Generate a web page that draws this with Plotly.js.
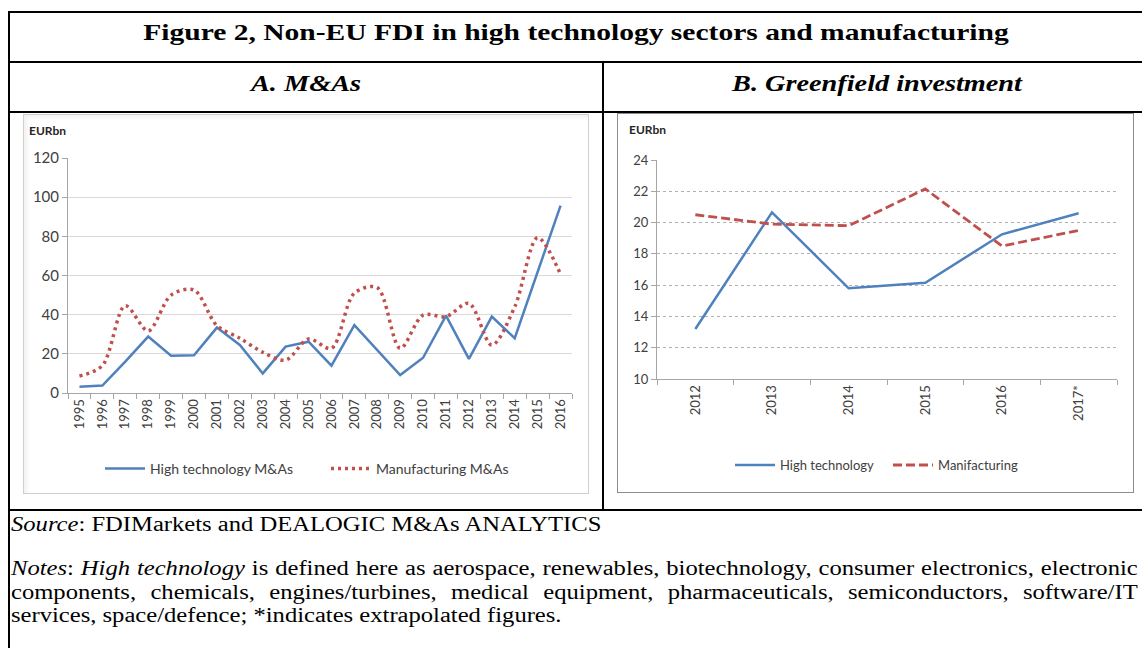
<!DOCTYPE html>
<html><head><meta charset="utf-8">
<script src="https://cdn.plot.ly/plotly-3.0.1.min.js"></script>
<style>
html,body{margin:0;padding:0;background:#fff;}
body{width:1142px;height:648px;overflow:hidden;position:relative;font-family:"Liberation Serif","Times New Roman",serif;color:#000;}
.ln{position:absolute;background:#000;}
.cell{position:absolute;text-align:center;white-space:nowrap;transform:scaleX(1.23);transform-origin:center;}
.txt{position:absolute;white-space:nowrap;transform:scaleX(1.23);transform-origin:left center;font-size:20px;line-height:23.5px;}
.jl{text-align:justify;text-align-last:justify;white-space:normal;width:916px;}
.box{position:absolute;box-sizing:border-box;background:#fff;}
.plot{position:absolute;}
</style>
</head><body>
<div class="ln" style="left:8px;top:11px;width:1150px;height:2px"></div>
<div class="ln" style="left:8px;top:61px;width:1150px;height:2px"></div>
<div class="ln" style="left:8px;top:111px;width:1150px;height:2px"></div>
<div class="ln" style="left:8px;top:509px;width:1150px;height:2px"></div>
<div class="ln" style="left:8px;top:11px;width:2px;height:650px"></div>
<div class="ln" style="left:602px;top:62px;width:2px;height:448px"></div>

<div class="cell" style="left:10px;width:1132px;top:19px;font-size:24px;font-weight:bold;">Figure 2, Non-EU FDI in high technology sectors and manufacturing</div>
<div class="cell" style="left:10px;width:592px;top:71px;font-size:23px;font-style:italic;font-weight:bold;">A. M&amp;As</div>
<div class="cell" style="left:604px;width:546px;top:71px;font-size:23px;font-style:italic;font-weight:bold;">B. Greenfield investment</div>

<div class="box" style="left:23px;top:114px;width:566px;height:380px;border:1px solid #cfcfcf;box-shadow:inset 3px 3px 4px rgba(0,0,0,0.06);"></div>
<div class="box" style="left:617px;top:113px;width:517px;height:380px;border:1px solid #8c8c8c;"></div>
<div id="chartA" class="plot" style="left:23px;top:114px;width:566px;height:380px;"></div>
<div id="chartB" class="plot" style="left:617px;top:113px;width:517px;height:380px;"></div>

<div class="txt" style="left:11px;top:513px;"><i>Source</i>: FDIMarkets and DEALOGIC M&amp;As ANALYTICS</div>
<div class="txt jl" style="left:11px;top:557px;"><i>Notes</i>: <i>High technology</i> is defined here as aerospace, renewables, biotechnology, consumer electronics, electronic</div>
<div class="txt jl" style="left:11px;top:580.5px;">components, chemicals, engines/turbines, medical equipment, pharmaceuticals, semiconductors, software/IT</div>
<div class="txt" style="left:11px;top:604px;">services, space/defence; *indicates extrapolated figures.</div>

<script>
// ---- Panel A: M&As (EURbn) ----
const yearsMA = ['1995','1996','1997','1998','1999','2000','2001','2002','2003','2004','2005','2006','2007','2008','2009','2010','2011','2012','2013','2014','2015','2016'];
const highTechMA = [3.2, 3.8, 16, 28.8, 19, 19.3, 33.4, 24.5, 10, 23.7, 26.2, 14, 34.7, 22, 9.2, 18, 39.5, 17.4, 39, 28, 62, 95.7];
const manufMA = [8.7, 14, 44.6, 31.7, 50, 52.6, 34.4, 28, 20.8, 16.8, 27.6, 22.8, 51, 53.8, 22.8, 39.8, 39, 45.8, 24.5, 44, 79.3, 60.6];
const seriesNamesMA = ['High technology M&As', 'Manufacturing M&As'];

// ---- Panel B: Greenfield investment (EURbn) ----
const yearsGF = ['2012','2013','2014','2015','2016','2017*'];
const highTechGF = [13.2, 20.65, 15.8, 16.15, 19.25, 20.6];
const manufGF = [20.5, 19.9, 19.8, 22.15, 18.5, 19.5];
const seriesNamesGF = ['High technology', 'Manifacturing'];

const BLUE = '#4f81bd', RED = '#c0504d';
const FONT = 'Lato, "Open Sans", sans-serif';

const tracesA = [
  {x: yearsMA, y: highTechMA, name: seriesNamesMA[0], type: 'scatter', mode: 'lines',
   line: {color: BLUE, width: 2.5}},
  {x: yearsMA, y: manufMA, name: seriesNamesMA[1], type: 'scatter', mode: 'lines',
   line: {color: RED, width: 3.5, dash: '3px,4px', shape: 'spline', smoothing: 0.9}}
];
const layoutA = {
  width: 566, height: 380,
  margin: {l: 45, r: 17, t: 44, b: 101, autoexpand: false},
  paper_bgcolor: 'rgba(0,0,0,0)', plot_bgcolor: 'rgba(0,0,0,0)',
  font: {family: FONT, size: 14, color: '#404040'},
  showlegend: true,
  legend: {orientation: 'h', x: 0.0635, xanchor: 'left', y: -0.323, yanchor: 'middle', entrywidth: 171,
           font: {size: 14, color: '#404040'}, bgcolor: 'rgba(0,0,0,0)', itemwidth: 40, traceorder: 'normal'},
  xaxis: {type: 'category', range: [-0.5, yearsMA.length - 0.5], tickangle: -90, showline: true, linecolor: '#a6a6a6', linewidth: 1,
          ticks: 'outside', ticklen: 5, tickcolor: '#a6a6a6', tickson: 'boundaries', automargin: false,
          showgrid: false, zeroline: false, tickfont: {size: 13, color: '#404040'}, fixedrange: true},
  yaxis: {range: [0, 120], dtick: 20, tick0: 0, showline: true, linecolor: '#a6a6a6', linewidth: 1,
          ticks: 'outside', ticklen: 5, tickcolor: '#a6a6a6', showgrid: true, gridcolor: '#d9d9d9', automargin: false,
          zeroline: false, tickfont: {size: 15, color: '#404040'}, fixedrange: true},
  annotations: [{text: '<b>EURbn</b>', xref: 'paper', yref: 'paper', x: -0.082, y: 1.119,
                 xanchor: 'left', yanchor: 'middle', showarrow: false,
                 font: {size: 12, color: '#262626', family: FONT}}]
};

const tracesB = [
  {x: yearsGF, y: highTechGF, name: seriesNamesGF[0], type: 'scatter', mode: 'lines',
   line: {color: BLUE, width: 2.5}},
  {x: yearsGF, y: manufGF, name: seriesNamesGF[1], type: 'scatter', mode: 'lines',
   line: {color: RED, width: 2.8, dash: '9px,4px'}}
];
const layoutB = {
  width: 517, height: 380,
  margin: {l: 40, r: 17, t: 47, b: 114, autoexpand: false},
  paper_bgcolor: 'rgba(0,0,0,0)', plot_bgcolor: 'rgba(0,0,0,0)',
  font: {family: FONT, size: 13, color: '#404040'},
  showlegend: true,
  legend: {orientation: 'h', x: 0.1587, xanchor: 'left', y: -0.393, yanchor: 'middle', entrywidth: 103,
           font: {size: 13, color: '#404040'}, bgcolor: 'rgba(0,0,0,0)', itemwidth: 40, traceorder: 'normal'},
  xaxis: {type: 'category', range: [-0.5, yearsGF.length - 0.5], tickangle: -90, showline: true, linecolor: '#a6a6a6', linewidth: 1,
          ticks: 'outside', ticklen: 5, tickcolor: '#a6a6a6', tickson: 'boundaries', automargin: false,
          showgrid: false, zeroline: false, tickfont: {size: 13, color: '#404040'}, fixedrange: true},
  yaxis: {range: [10, 24], dtick: 2, tick0: 10, showline: true, linecolor: '#a6a6a6', linewidth: 1,
          ticks: 'outside', ticklen: 5, tickcolor: '#a6a6a6', showgrid: true, gridcolor: '#b0b0b0', automargin: false,
          griddash: 'dot', gridwidth: 1, zeroline: false, tickfont: {size: 13, color: '#404040'}, fixedrange: true},
  annotations: [{text: '<b>EURbn</b>', xref: 'paper', yref: 'paper', x: -0.065, y: 1.14,
                 xanchor: 'left', yanchor: 'middle', showarrow: false,
                 font: {size: 12, color: '#262626', family: FONT}}]
};

const cfg = {staticPlot: true, displayModeBar: false};
Plotly.newPlot('chartA', tracesA, layoutA, cfg);
Plotly.newPlot('chartB', tracesB, layoutB, cfg);
</script>
</body></html>
